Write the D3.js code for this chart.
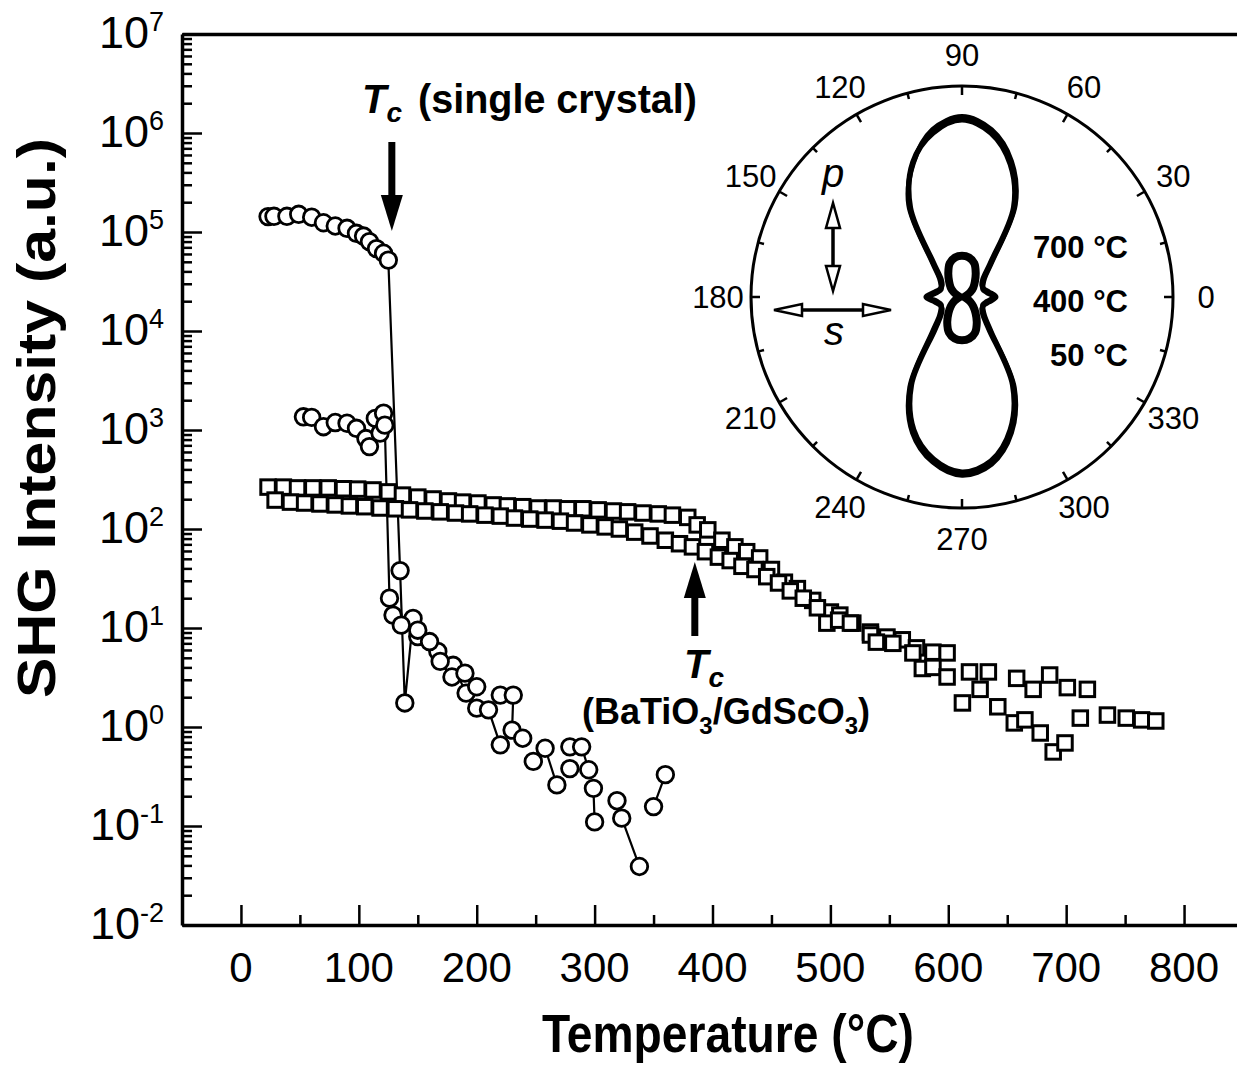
<!DOCTYPE html>
<html>
<head>
<meta charset="utf-8">
<script src="https://cdn.jsdelivr.net/npm/d3@7"></script>
<style>
body { margin: 0; background: #fff; }
text { font-family: "Liberation Sans", Arial, sans-serif; fill: #000; }
</style>
</head>
<body>
<svg id="chart" width="1237" height="1068"></svg>
<script>
// ---- data ----
// single crystal, upper run (circles); null = no connecting line
const crystalHighT = [23, 28, 39, 49, 60, 70, 80, 90, 98, 104, 109, 115, 121, 125,
  135, 139, 146, 150, 167, 180, 191, null, 200, null, 220, null, 231, 230, null, 239, null,
  258, 268, null, 279, null, 289, 295, null, 299, 300, null, 319, null, 323, 338, null, 350, 360];
const crystalHighV = [1.43e5, 1.44e5, 1.44e5, 1.51e5, 1.41e5, 1.24e5, 1.15e5, 1.09e5, 9.7e4, 9.1e4, 8.0e4, 6.8e4, 6.1e4, 5.2e4,
  38, 1.75, 12.5, 8.2, 5.8, 4.2, 2.2, null, 2.55, null, 2.1, null, 2.1, 0.93, null, 0.77, null,
  0.61, 0.26, null, 0.63, null, 0.63, 0.37, null, 0.24, 0.11, null, 0.18, null, 0.12, 0.039, null, 0.157, 0.33];
// single crystal, lower run (circles)
const crystalLowT = [53, 60, 70, 80, 90, 98, 106, 109, 114, 118, 121, 122,
  126, 129, 136, 150, 160, 169, 179, 190, null, 200, 210, 220, null, 248, null, 279];
const crystalLowV = [1360, 1340, 1080, 1190, 1170, 1040, 820, 680, 1310, 930, 1480, 1120,
  20, 13.5, 10.7, 9.5, 7.3, 4.6, 3.2, 3.5, null, 1.55, 1.49, 0.66, null, 0.45, null, 0.38];
// BaTiO3/GdScO3 film (squares)
const filmUpT = [23, 36, 48, 61, 74, 87, 99, 112, 125, 137, 150, 163, 176, 188, 201, 214, 226, 239, 252, 265,
  277, 290, 303, 316, 328, 341, 354, 366, 379, 387, 396, 408, 419, 429, 440, 450, 461, 472, 485, 500,
  508, 519, 534, 548, 561, 573, 587, 599, 618, 634, 658, 672, 686, 701, 718, 735, 751, 764, 776];
const filmUpV = [265, 265, 260, 260, 260, 255, 253, 248, 237, 220, 210, 201, 192, 187, 183, 175, 171, 168, 163, 163,
  160, 160, 156, 152, 149, 145, 142, 138, 131, 110, 98, 77, 66, 59, 51, 39, 29, 25, 19, 14.5,
  13.5, 11.2, 9.1, 8.1, 7.6, 6.3, 5.7, 5.6, 3.6, 3.6, 3.1, 2.4, 3.35, 2.5, 2.4, 1.32, 1.23, 1.18, 1.15];
const filmDownT = [29, 42, 54, 67, 80, 92, 105, 118, 131, 143, 156, 169, 182, 194, 207, 220, 232, 245, 258, 271,
  283, 296, 309, 321, 334, 347, 360, 372, 383, 394, 405, 415, 425, 436, 446, 456, 466, 477, 489, 497,
  507, 517, 534, 539, 553, 570, 578, 587, 599, 612, 627, 642, 656, 665, 678, 689, 699, 712];
const filmDownV = [196, 187, 183, 179, 175, 171, 168, 163, 160, 156, 152, 149, 145, 142, 138, 135, 129, 126, 123, 120,
  115, 110, 105, 100, 93, 85, 77, 71, 66, 59, 52, 48, 42, 39, 33, 28.5, 23.7, 20, 16, 11.2,
  12, 11.2, 8.5, 7.2, 7.0, 5.6, 3.9, 4.0, 3.2, 1.75, 2.4, 1.6, 1.1, 1.18, 0.87, 0.56, 0.69, 1.23];

// axis ticks
const xMajorTicks = [0, 100, 200, 300, 400, 500, 600, 700, 800];
const xMinorTicks = [50, 150, 250, 350, 450, 550, 650, 750];
const yMajorTicks = [1e-2, 1e-1, 1, 1e1, 1e2, 1e3, 1e4, 1e5, 1e6, 1e7];
const yExponents = ["-2", "-1", "0", "1", "2", "3", "4", "5", "6", "7"];

// transition temperatures marked by arrows
const tcCrystal = 128;
const tcFilm = 385;

// inset: polar SHG pattern (normalised intensity vs analyser angle)
const polarAngles = [0, 10, 20, 30, 40, 50, 60, 70, 80, 90, 100, 110, 120, 130, 140, 150, 160, 170,
  180, 190, 200, 210, 220, 230, 240, 250, 260, 270, 280, 290, 300, 310, 320, 330, 340, 350];
const polar50 = [.16, .13, .11, .11, .13, .21, .49, .67, .79, .84, .79, .68, .49, .21, .13, .11, .11, .13,
  .17, .13, .11, .11, .13, .20, .48, .67, .78, .83, .79, .67, .48, .20, .13, .11, .11, .13];
const polar400 = [.15, .12, .105, .115, .14, .225, .505, .685, .805, .855, .805, .675, .505, .225, .14, .115, .105, .12,
  .16, .12, .105, .115, .14, .22, .495, .685, .795, .845, .805, .685, .495, .215, .14, .115, .105, .12];
const polar700 = [.01, .015, .025, .045, .07, .095, .13, .17, .19, .195, .19, .17, .13, .095, .07, .045, .025, .015,
  .01, .015, .025, .045, .07, .10, .14, .18, .20, .205, .20, .18, .14, .10, .07, .045, .025, .015];
const polarLabelAngles = [0, 30, 60, 90, 120, 150, 180, 210, 240, 270, 300, 330];
const polarTickAngles = [0, 15, 30, 45, 60, 75, 90, 105, 120, 135, 150, 165, 180, 195, 210, 225, 240, 255,
  270, 285, 300, 315, 330, 345];
const polarTemps = ["700 °C", "400 °C", "50 °C"];

// ---- layout ----
const svg = d3.select("#chart");
const plotLeft = 182, plotTop = 34, plotBottom = 925;

const x = d3.scaleLinear().domain([-50, 850]).range([plotLeft, 1243]);
const y = d3.scaleLog().domain([1e-2, 1e7]).range([plotBottom, plotTop]);

// axes: ticks point inward
const gx = svg.append("g").attr("transform", "translate(0," + plotBottom + ")");
gx.call(d3.axisBottom(x).tickValues(xMajorTicks).tickSize(-20).tickSizeOuter(0).tickFormat(""));
gx.append("g").call(d3.axisBottom(x).tickValues(xMinorTicks).tickSize(-10).tickSizeOuter(0).tickFormat(""))
  .select(".domain").remove();

const yMinor = y.ticks().filter(d => !yMajorTicks.includes(d));
const gy = svg.append("g").attr("transform", "translate(" + plotLeft + ",0)");
gy.call(d3.axisLeft(y).tickValues(yMajorTicks).tickSize(-20).tickSizeOuter(0).tickFormat(""));
gy.append("g").call(d3.axisLeft(y).tickValues(yMinor).tickSize(-10).tickSizeOuter(0).tickFormat(""))
  .select(".domain").remove();

svg.append("g").attr("transform", "translate(0," + plotTop + ")")
  .call(d3.axisTop(x).tickValues([]).tickSizeOuter(0));

svg.selectAll(".domain").attr("stroke", "#000").attr("stroke-width", 3.5);
svg.selectAll(".tick line").attr("stroke", "#000").attr("stroke-width", 2.5);

// tick labels
svg.append("g").selectAll("text")
  .data(xMajorTicks)
  .join("text")
  .attr("x", d => x(d))
  .attr("y", 982)
  .attr("text-anchor", "middle")
  .style("font-size", "42px")
  .text(d => d);

const yl = svg.append("g").selectAll("text")
  .data(yMajorTicks)
  .join("text")
  .attr("x", 164)
  .attr("y", d => y(d) + 14)
  .attr("text-anchor", "end")
  .style("font-size", "45px");
yl.append("tspan").text("10");
yl.append("tspan").attr("dy", -17).style("font-size", "27px").text((d, i) => yExponents[i]);

// axis titles
svg.append("text")
  .attr("transform", "translate(55,418) rotate(-90)")
  .attr("text-anchor", "middle")
  .attr("textLength", 560)
  .attr("lengthAdjust", "spacingAndGlyphs")
  .style("font-size", "54px").style("font-weight", "bold")
  .text("SHG Intensity (a.u.)");

svg.append("text")
  .attr("x", 728).attr("y", 1052)
  .attr("text-anchor", "middle")
  .attr("textLength", 372)
  .attr("lengthAdjust", "spacingAndGlyphs")
  .style("font-size", "54px").style("font-weight", "bold")
  .text("Temperature (°C)");

// ---- data marks ----
const toPts = (ts, vs) => ts.map((t, i) => ({ t: t, v: vs[i] }));
const lineXY = d3.line().defined(d => d.v != null).x(d => x(d.t)).y(d => y(d.v));

const crystalSeries = [toPts(crystalHighT, crystalHighV), toPts(crystalLowT, crystalLowV)];
const filmSeries = [toPts(filmUpT, filmUpV), toPts(filmDownT, filmDownV)];

svg.append("g").selectAll("path")
  .data(crystalSeries)
  .join("path")
  .attr("d", lineXY)
  .attr("fill", "none")
  .attr("stroke", "#000")
  .attr("stroke-width", 2.2);

const sq = 14.5;
filmSeries.forEach(s => {
  svg.append("g").selectAll("rect")
    .data(s)
    .join("rect")
    .attr("x", d => x(d.t) - sq / 2)
    .attr("y", d => y(d.v) - sq / 2)
    .attr("width", sq).attr("height", sq)
    .attr("fill", "#fff")
    .attr("stroke", "#000")
    .attr("stroke-width", 3);
});

crystalSeries.forEach(s => {
  svg.append("g").selectAll("circle")
    .data(s.filter(d => d.v != null))
    .join("circle")
    .attr("cx", d => x(d.t))
    .attr("cy", d => y(d.v))
    .attr("r", 8.3)
    .attr("fill", "#fff")
    .attr("stroke", "#000")
    .attr("stroke-width", 2.8);
});

// ---- annotations ----
function arrow(xp, y0, y1, head) {
  // shaft from y0 to the tip y1, filled head
  const dir = y1 > y0 ? 1 : -1;
  svg.append("line")
    .attr("x1", xp).attr("x2", xp)
    .attr("y1", y0).attr("y2", y1 - dir * head)
    .attr("stroke", "#000").attr("stroke-width", 7);
  svg.append("path")
    .attr("d", d3.line()([[xp - 11, y1 - dir * head], [xp + 11, y1 - dir * head], [xp, y1]]) + "Z")
    .attr("fill", "#000");
}
arrow(x(tcCrystal), 142, 231, 36);
arrow(x(tcFilm), 636, 562, 36);

const tc1 = svg.append("text").attr("x", 362).attr("y", 113)
  .style("font-size", "40px").style("font-weight", "bold").style("font-style", "italic");
tc1.append("tspan").text("T");
tc1.append("tspan").attr("dy", 9).style("font-size", "28px").text("c");
svg.append("text").attr("x", 418).attr("y", 113)
  .attr("textLength", 279).attr("lengthAdjust", "spacingAndGlyphs")
  .style("font-size", "40px").style("font-weight", "bold")
  .text("(single crystal)");

const tc2 = svg.append("text").attr("x", 684).attr("y", 678)
  .style("font-size", "40px").style("font-weight", "bold").style("font-style", "italic");
tc2.append("tspan").text("T");
tc2.append("tspan").attr("dy", 9).style("font-size", "28px").text("c");

const bt = svg.append("text").attr("x", 582).attr("y", 724)
  .style("font-size", "36px").style("font-weight", "bold");
bt.append("tspan").text("(BaTiO");
bt.append("tspan").attr("dy", 10).style("font-size", "24px").text("3");
bt.append("tspan").attr("dy", -10).text("/GdScO");
bt.append("tspan").attr("dy", 10).style("font-size", "24px").text("3");
bt.append("tspan").attr("dy", -10).text(")");

// ---- inset polar plot ----
const cx = 962, cy = 297, R = 211;
const rS = d3.scaleLinear().domain([0, 1]).range([0, R]);
const rad = a => a * Math.PI / 180;
const inset = svg.append("g");

inset.append("circle").attr("cx", cx).attr("cy", cy).attr("r", R)
  .attr("fill", "none").attr("stroke", "#000").attr("stroke-width", 3);

inset.append("g").selectAll("line")
  .data(polarTickAngles)
  .join("line")
  .attr("x1", a => cx + R * Math.cos(rad(a)))
  .attr("y1", a => cy - R * Math.sin(rad(a)))
  .attr("x2", a => cx + (R - (a % 30 === 0 ? 9 : 6)) * Math.cos(rad(a)))
  .attr("y2", a => cy - (R - (a % 30 === 0 ? 9 : 6)) * Math.sin(rad(a)))
  .attr("stroke", "#000").attr("stroke-width", 2.5);

inset.append("g").selectAll("text")
  .data(polarLabelAngles)
  .join("text")
  .attr("x", a => cx + (R + 33) * Math.cos(rad(a)))
  .attr("y", a => cy - (R + 31) * Math.sin(rad(a)) + 11)
  .attr("text-anchor", "middle")
  .style("font-size", "31px")
  .text(a => a);

const polarLine = d3.line()
  .x(d => cx + rS(d.r) * Math.cos(rad(d.a)))
  .y(d => cy - rS(d.r) * Math.sin(rad(d.a)))
  .curve(d3.curveCatmullRomClosed);

const polarSets = [
  { vals: polar50, w: 5.5 },
  { vals: polar400, w: 5 },
  { vals: polar700, w: 8 }
];
inset.append("g").selectAll("path")
  .data(polarSets)
  .join("path")
  .attr("d", s => polarLine(polarAngles.map((a, i) => ({ a: a, r: s.vals[i] }))))
  .attr("fill", "none")
  .attr("stroke", "#000")
  .attr("stroke-width", s => s.w)
  .attr("stroke-linejoin", "round");

inset.append("g").selectAll("text")
  .data(polarTemps)
  .join("text")
  .attr("x", 1128)
  .attr("y", (d, i) => 258 + i * 54)
  .attr("text-anchor", "end")
  .style("font-size", "31px").style("font-weight", "bold")
  .text(d => d);

// polarisation arrows (open heads)
function openHead(tip, base, half, vertical) {
  const pts = vertical
    ? [[tip[0], tip[1]], [tip[0] - half, base], [tip[0] + half, base]]
    : [[tip[0], tip[1]], [base, tip[1] - half], [base, tip[1] + half]];
  inset.append("path").attr("d", d3.line()(pts) + "Z")
    .attr("fill", "#fff").attr("stroke", "#000").attr("stroke-width", 2.5)
    .attr("stroke-linejoin", "miter");
}
inset.append("line").attr("x1", 833).attr("x2", 833).attr("y1", 226).attr("y2", 268)
  .attr("stroke", "#000").attr("stroke-width", 3.5);
openHead([833, 203], 228, 7, true);
openHead([833, 291], 266, 7, true);
inset.append("line").attr("x1", 800).attr("x2", 865).attr("y1", 310).attr("y2", 310)
  .attr("stroke", "#000").attr("stroke-width", 3.5);
openHead([774, 310], 802, 6, false);
openHead([891, 310], 863, 6, false);

inset.append("text").attr("x", 833).attr("y", 187).attr("text-anchor", "middle")
  .style("font-size", "40px").style("font-style", "italic").text("p");
inset.append("text").attr("x", 834).attr("y", 345).attr("text-anchor", "middle")
  .style("font-size", "40px").style("font-style", "italic").text("s");
</script>
</body>
</html>
